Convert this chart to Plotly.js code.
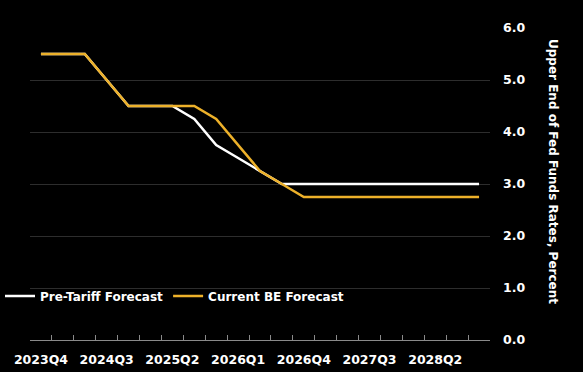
<!DOCTYPE html>
<html>
<head>
<meta charset="utf-8">
<script src="https://cdn.plot.ly/plotly-3.0.1.min.js"></script>
<style>html,body{margin:0;padding:0;background:#000;}#chart{width:583px;height:372px;}</style>
</head>
<body>
<div id="chart"></div>
<script>
const quarters = ["2023Q4","2024Q1","2024Q2","2024Q3","2024Q4","2025Q1","2025Q2","2025Q3","2025Q4","2026Q1","2026Q2","2026Q3","2026Q4","2027Q1","2027Q2","2027Q3","2027Q4","2028Q1","2028Q2","2028Q3","2028Q4"];
const preTariff = [5.5,5.5,5.5,5.0,4.5,4.5,4.5,4.25,3.75,3.5,3.25,3.0,3.0,3.0,3.0,3.0,3.0,3.0,3.0,3.0,3.0];
const currentBE = [5.5,5.5,5.5,5.0,4.5,4.5,4.5,4.5,4.25,3.75,3.25,3.0,2.75,2.75,2.75,2.75,2.75,2.75,2.75,2.75,2.75];
const labelQuarters = ["2023Q4","2024Q3","2025Q2","2026Q1","2026Q4","2027Q3","2028Q2"];
const yTicks = [0,1,2,3,4,5,6];

const idx = quarters.map((q,i)=>i);
const font = {family:"DejaVu Sans", size:12.5, color:"#ffffff", weight:"bold"};

const traces = [
  {x: idx, y: preTariff, name: "Pre-Tariff Forecast", type: "scatter", mode: "lines",
   line: {color: "#ffffff", width: 2.5}},
  {x: idx, y: currentBE, name: "Current BE Forecast", type: "scatter", mode: "lines",
   line: {color: "#EDB12A", width: 2.5}}
];

const layout = {
  width: 583, height: 372,
  paper_bgcolor: "#000", plot_bgcolor: "#000",
  margin: {l: 30, r: 93, t: 28, b: 32, autoexpand: false},
  font: font,
  showlegend: true,
  legend: {orientation: "h", xref: "container", x: 0, xanchor: "left",
           yref: "paper", y: 0.141, yanchor: "middle",
           bgcolor: "rgba(0,0,0,0)", itemgap: 0,
           font: {family:"DejaVu Sans", size:12, color:"#ffffff", weight:"bold"}},
  xaxis: {
    range: [-0.5, quarters.length - 0.5],
    tickmode: "array",
    tickvals: labelQuarters.map(q => quarters.indexOf(q)),
    ticktext: labelQuarters,
    ticks: "inside", ticklen: 0, tickcolor: "#000",
    showgrid: false, zeroline: false,
    showline: true, linecolor: "#8a8a8a", linewidth: 1,
    ticklabelstandoff: 8,
    tickfont: font,
    minor: {tickvals: quarters.map((q,i)=>i-0.5).concat([quarters.length-0.5]),
            ticks: "inside", ticklen: 5, tickcolor: "#8a8a8a", tickwidth: 1, showgrid: false},
    fixedrange: true
  },
  yaxis: {
    side: "right", range: [0, 6],
    tickmode: "array", tickvals: yTicks, ticktext: yTicks.map(v => v.toFixed(1)),
    showgrid: true, gridcolor: "#2d2d2d", gridwidth: 1,
    zeroline: false, showline: false, ticks: "",
    ticklabelstandoff: 12,
    tickfont: font,
    fixedrange: true
  },
  annotations: [{
    text: "Upper End of Fed Funds Rates, Percent",
    xref: "paper", yref: "paper", x: 1, xshift: 63, y: 0.5, yshift: 13,
    xanchor: "center", yanchor: "middle", showarrow: false, textangle: 90,
    font: {family:"DejaVu Sans", size:12, color:"#ffffff", weight:"bold"}
  }]
};

Plotly.newPlot("chart", traces, layout, {displayModeBar: false, staticPlot: true});
</script>
</body>
</html>
